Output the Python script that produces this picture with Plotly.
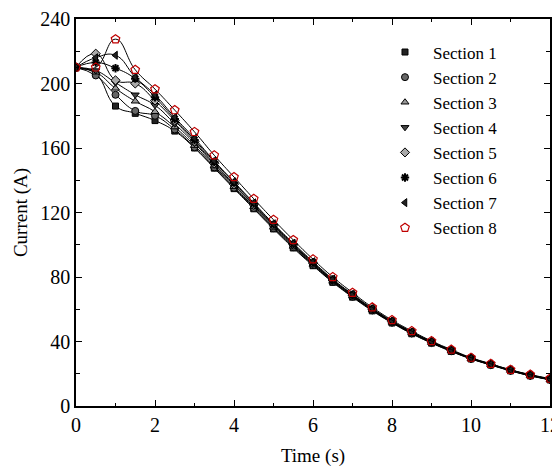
import plotly.graph_objects as go

time_s = [0, 0.5, 1, 1.5, 2, 2.5, 3, 3.5, 4, 4.5, 5, 5.5, 6, 6.5, 7, 7.5, 8,
          8.5, 9, 9.5, 10, 10.5, 11, 11.5, 12]

section_1 = [210, 206, 186, 181.5, 177, 170.5, 160, 147.5, 134.8, 122.3, 109.8, 98, 87,
             76.7, 67.5, 59, 51.5, 44.8, 39, 33.8, 29.2, 25.4, 21.8, 18.7, 16.2]
section_2 = [210, 205, 193, 183, 180, 171.5, 160.5, 148, 135.3, 122.8, 110.3, 98.5, 87.4,
             77, 67.8, 59.3, 51.7, 45, 39.2, 34, 29.3, 25.5, 21.9, 18.8, 16.3]
section_3 = [210, 207, 197, 189, 182.5, 173, 161.5, 148.8, 136, 123.5, 110.8, 99, 87.8,
             77.3, 68.1, 59.5, 51.9, 45.2, 39.3, 34.1, 29.4, 25.6, 22.0, 18.9, 16.4]
section_4 = [210, 208, 200.5, 193, 186.5, 175, 163, 149.8, 137, 124.3, 111.5, 99.5, 88.2,
             77.7, 68.4, 59.8, 52.1, 45.4, 39.5, 34.3, 29.5, 25.7, 22.1, 19.0, 16.5]
section_5 = [210, 218.5, 202, 200, 189.5, 177, 164, 150.5, 137.5, 124.8, 112, 100, 88.6,
             78, 68.7, 60, 52.3, 45.6, 39.6, 34.4, 29.6, 25.8, 22.2, 19.1, 16.6]
section_6 = [210, 213, 209.5, 203, 191.5, 178, 165, 151.5, 138.5, 125.5, 112.5, 100.5, 89,
             78.3, 69, 60.2, 52.5, 45.8, 39.8, 34.5, 29.7, 25.9, 22.3, 19.2, 16.7]
section_7 = [210, 216, 217.5, 204, 193, 179, 166, 152, 139, 126, 113, 101, 89.5,
             78.7, 69.3, 60.5, 52.7, 46, 40, 34.6, 29.8, 26, 22.4, 19.3, 16.8]
section_8 = [210, 210, 227.5, 208.5, 196.5, 183.5, 170, 155.5, 142, 128.5, 115.5, 103, 91,
             80, 70.3, 61.2, 53.3, 46.5, 40.3, 35, 30, 26.2, 22.5, 19.5, 17]

names = ["Section 1", "Section 2", "Section 3", "Section 4",
         "Section 5", "Section 6", "Section 7", "Section 8"]
series = [section_1, section_2, section_3, section_4,
          section_5, section_6, section_7, section_8]

styles = [
    dict(symbol="square", size=6, color="#222222", line=dict(color="black", width=1)),
    dict(symbol="circle", size=7, color="#666666", line=dict(color="black", width=1)),
    dict(symbol="triangle-up", size=7, color="#999999", line=dict(color="black", width=1)),
    dict(symbol="triangle-down", size=7, color="#444444", line=dict(color="black", width=1)),
    dict(symbol="diamond", size=7, color="#aaaaaa", line=dict(color="black", width=1)),
    dict(symbol="asterisk-open", size=7, color="black", line=dict(color="black", width=2)),
    dict(symbol="triangle-left", size=7, color="#222222", line=dict(color="black", width=1)),
    dict(symbol="pentagon-open", size=9, color="#c00000", line=dict(color="#c00000", width=1.2)),
]

FONT = "Liberation Serif"

fig = go.Figure()
for name, ys, st in zip(names, series, styles):
    fig.add_trace(go.Scatter(
        x=time_s, y=ys, mode="lines+markers", name=name, showlegend=False,
        line=dict(color="black", width=1, shape="spline", smoothing=1.3),
        marker=st,
    ))
for name, st in zip(names, styles):
    fig.add_trace(go.Scatter(
        x=[None], y=[None], mode="markers", name=name, marker=st, showlegend=True,
    ))

axis_common = dict(
    showline=True, linecolor="black", linewidth=1.5, mirror="ticks",
    ticks="inside", ticklen=6, tickwidth=1.2, tickcolor="black",
    showgrid=False, zeroline=False, automargin=False,
    tickfont=dict(family=FONT, size=20, color="black"),
)

fig.update_xaxes(
    range=[0, 12], dtick=2, tick0=0,
    minor=dict(dtick=1, ticks="inside", ticklen=3, tickcolor="black", tickwidth=1.2),
    title=dict(text="Time (s)", font=dict(family=FONT, size=19, color="black"), standoff=14),
    **axis_common,
)
fig.update_yaxes(
    range=[0, 240], dtick=40, tick0=0,
    minor=dict(dtick=20, ticks="inside", ticklen=4, tickcolor="black", tickwidth=1.2),
    title=dict(text="Current (A)", font=dict(family=FONT, size=19, color="black"), standoff=8),
    **axis_common,
)

fig.update_layout(
    template="none",
    width=560, height=468,
    margin=dict(l=68, r=18, t=11, b=70, autoexpand=False),
    plot_bgcolor="white", paper_bgcolor="white",
    font=dict(family=FONT, size=19, color="black"),
    legend=dict(
        x=0.635, y=0.96, xanchor="left", yanchor="top",
        bgcolor="rgba(0,0,0,0)", borderwidth=0,
        font=dict(family=FONT, size=17, color="black"),
        itemwidth=46, tracegroupgap=0,
    ),
)

fig.write_html("out.html")
